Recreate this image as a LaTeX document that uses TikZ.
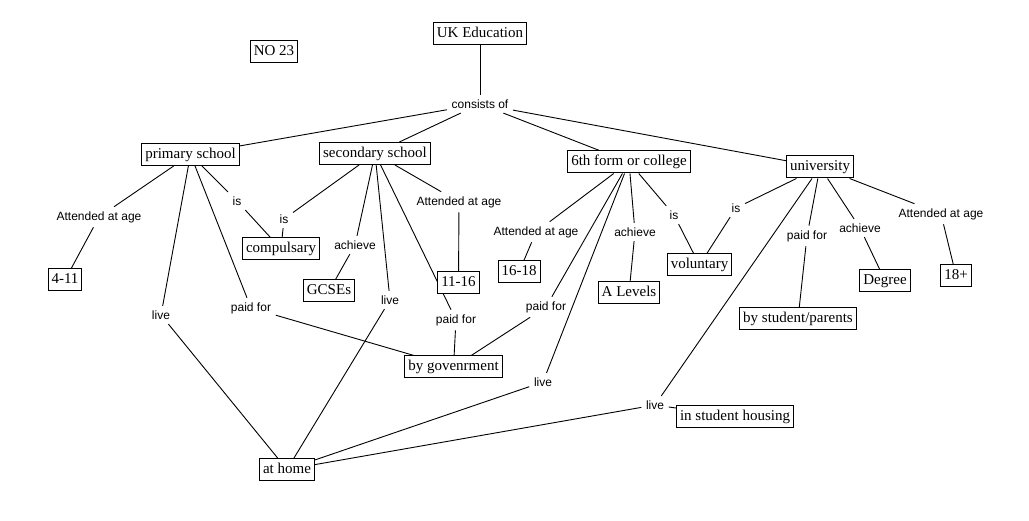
\documentclass[tikz,border=0pt]{standalone}
\usepackage{fontspec}
\setmainfont{Liberation Serif}
\newfontfamily\linkfont{Liberation Sans}
\usetikzlibrary{backgrounds}
\tikzset{
  concept/.style={draw, fill=white, line width=1pt, font=\fontsize{15}{17}\selectfont,
    inner xsep=3.5pt, inner ysep=0pt, minimum height=22pt, text height=10.5pt, text depth=3pt},
  linklab/.style={font=\linkfont\fontsize{12}{14}\selectfont, inner sep=4.5pt},
  conn/.style={line width=0.9pt, black}
}
\begin{document}
\begin{tikzpicture}[x=1pt,y=-1pt]
\useasboundingbox (0,0) rectangle (1029,521);
% concepts
\node[concept] (uk) at (480,34) {UK Education};
\node[concept] (no) at (274,52) {NO 23};
\node[concept] (ps) at (190.5,154.5) {primary school};
\node[concept] (ss) at (375,153.5) {secondary school};
\node[concept] (sf) at (629,162) {6th form or college};
\node[concept] (un) at (820,167) {university};
\node[concept] (a411) at (65,280) {4-11};
\node[concept] (comp) at (281,249) {compulsary};
\node[concept] (gcse) at (329,291) {GCSEs};
\node[concept] (a1116) at (458.5,283) {11-16};
\node[concept] (a1618) at (519,272) {16-18};
\node[concept] (alev) at (629,293) {A Levels};
\node[concept] (vol) at (699.5,265) {voluntary};
\node[concept] (deg) at (885,280.5) {Degree};
\node[concept] (a18) at (956,275.5) {18+};
\node[concept] (bsp) at (798,319) {by student/parents};
\node[concept] (gov) at (453.5,367) {by govenrment};
\node[concept] (ish) at (735,416.5) {in student housing};
\node[concept] (home) at (287,469.5) {at home};
% link labels
\node[linklab] (cons) at (480,104) {consists of};
\node[linklab] (psage) at (99,217) {Attended at age};
\node[linklab] (psis) at (237,201) {is};
\node[linklab] (pslive) at (161,315) {live};
\node[linklab] (pspaid) at (251,308) {paid for};
\node[linklab] (ssis) at (284,219) {is};
\node[linklab] (ssach) at (355,245) {achieve};
\node[linklab] (sslive) at (390,300) {live};
\node[linklab] (ssage) at (459,202) {Attended at age};
\node[linklab] (sspaid) at (456,320) {paid for};
\node[linklab] (sfage) at (536,232) {Attended at age};
\node[linklab] (sfach) at (635,232) {achieve};
\node[linklab] (sfis) at (674,215) {is};
\node[linklab] (sfpaid) at (546,307) {paid for};
\node[linklab] (sflive) at (543,382) {live};
\node[linklab] (unis) at (736,208) {is};
\node[linklab] (unpaid) at (807,236) {paid for};
\node[linklab] (unach) at (860,228) {achieve};
\node[linklab] (unage) at (941,214) {Attended at age};
\node[linklab] (unlive) at (655,405) {live};
\begin{scope}[on background layer]
\draw[conn] (uk) -- (cons);
\draw[conn] (cons) -- (ps);
\draw[conn] (cons) -- (ss);
\draw[conn] (cons) -- (sf);
\draw[conn] (cons) -- (un);
\draw[conn] (ps) -- (psage) -- (a411);
\draw[conn] (ps) -- (psis) -- (comp);
\draw[conn] (ps) -- (pslive) -- (home);
\draw[conn] (ps) -- (pspaid) -- (gov);
\draw[conn] (ss) -- (ssis) -- (comp);
\draw[conn] (ss) -- (ssach) -- (gcse);
\draw[conn] (ss) -- (sslive) -- (home);
\draw[conn] (ss) -- (ssage) -- (a1116);
\draw[conn] (ss) -- (sspaid) -- (gov);
\draw[conn] (sf) -- (sfage) -- (a1618);
\draw[conn] (sf) -- (sfach) -- (alev);
\draw[conn] (sf) -- (sfis) -- (vol);
\draw[conn] (sf) -- (sfpaid) -- (gov);
\draw[conn] (sf) -- (sflive) -- (home);
\draw[conn] (un) -- (unis) -- (vol);
\draw[conn] (un) -- (unpaid) -- (bsp);
\draw[conn] (un) -- (unach) -- (deg);
\draw[conn] (un) -- (unage) -- (a18);
\draw[conn] (un) -- (unlive) -- (ish);
\draw[conn] (unlive) -- (home);
\end{scope}
\end{tikzpicture}
\end{document}
